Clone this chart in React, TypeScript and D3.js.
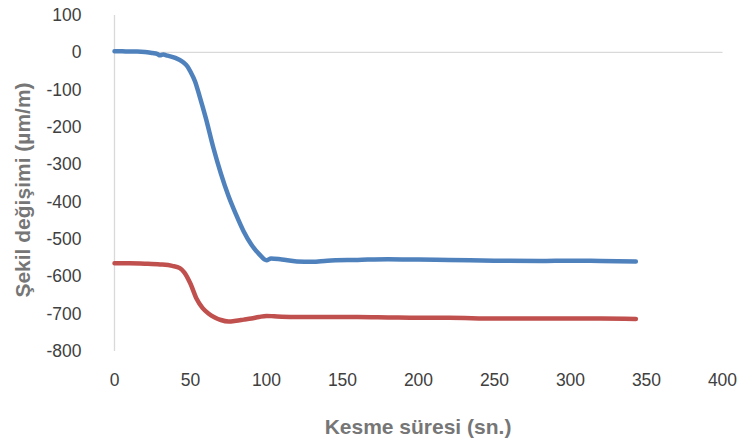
import React from "react";
import * as d3 from "d3";

const xTicks = [0, 50, 100, 150, 200, 250, 300, 350, 400];
const yTicks = [100, 0, -100, -200, -300, -400, -500, -600, -700, -800];

const blueX = [0, 5, 10, 15, 20, 25, 28, 30, 32, 35, 40, 45, 48, 50, 53, 56, 60, 65, 70, 75, 80, 85, 90, 95, 100, 103, 110, 120, 130, 140, 160, 180, 200, 220, 250, 280, 300, 320, 343];
const blueY = [3, 3, 2, 2, 1, -2, -4, -8, -6, -9, -15, -26, -38, -52, -78, -118, -175, -255, -325, -385, -435, -480, -515, -540, -557, -552, -555, -560, -561, -558, -556, -554, -555, -556, -558, -559, -558, -559, -560];

const redX = [0, 10, 20, 30, 38, 43, 46, 50, 54, 58, 62, 66, 70, 75, 80, 85, 90, 95, 100, 105, 110, 120, 140, 160, 180, 200, 220, 250, 280, 300, 320, 343];
const redY = [-565, -565, -566, -568, -572, -578, -590, -620, -660, -685, -700, -710, -717, -721, -719, -716, -713, -709, -706, -707, -708, -709, -709, -709, -710, -711, -711, -713, -713, -713, -713, -714];

const W = 743;
const H = 441;

export default function App() {
  const x = d3.scaleLinear().domain([0, 400]).range([114.5, 722.5]);
  const y = d3.scaleLinear().domain([-800, 100]).range([351, 15]);
  const line = d3
    .line<[number, number]>()
    .x((d) => x(d[0]))
    .y((d) => y(d[1]))
    .curve(d3.curveMonotoneX);
  const blue = blueX.map((v, i) => [v, blueY[i]] as [number, number]);
  const red = redX.map((v, i) => [v, redY[i]] as [number, number]);
  const font = "'Liberation Sans', Arial, sans-serif";
  return (
    <svg width={W} height={H} style={{ position: "absolute", left: 0, top: 0, background: "#fff" }}>
      <line x1={x(0)} x2={x(400)} y1={y(0)} y2={y(0)} stroke="#d9d9d9" strokeWidth={1.3} />
      <line x1={x(0)} x2={x(0)} y1={y(100)} y2={y(-800)} stroke="#d9d9d9" strokeWidth={1.3} />
      {yTicks.map((t) => (
        <text key={t} x={81.5} y={y(t)} dy="0.35em" textAnchor="end" fontFamily={font} fontSize={17.5} fill="#404040">
          {t}
        </text>
      ))}
      {xTicks.map((t) => (
        <text key={t} x={x(t)} y={380} dy="0.35em" textAnchor="middle" fontFamily={font} fontSize={17.5} fill="#404040">
          {t}
        </text>
      ))}
      <path d={line(red) || ""} fill="none" stroke="#c0504d" strokeWidth={4.5} strokeLinejoin="round" strokeLinecap="round" />
      <path d={line(blue) || ""} fill="none" stroke="#4f81bd" strokeWidth={4.5} strokeLinejoin="round" strokeLinecap="round" />
      <text x={418} y={427} dy="0.35em" textAnchor="middle" fontFamily={font} fontSize={21} fontWeight="bold" fill="#767676">
        Kesme süresi (sn.)
      </text>
      <text
        transform={`translate(23,190) rotate(-90)`}
        dy="0.35em"
        textAnchor="middle"
        fontFamily={font}
        fontSize={21}
        fontWeight="bold"
        fill="#767676"
      >
        Şekil değişimi (µm/m)
      </text>
    </svg>
  );
}
